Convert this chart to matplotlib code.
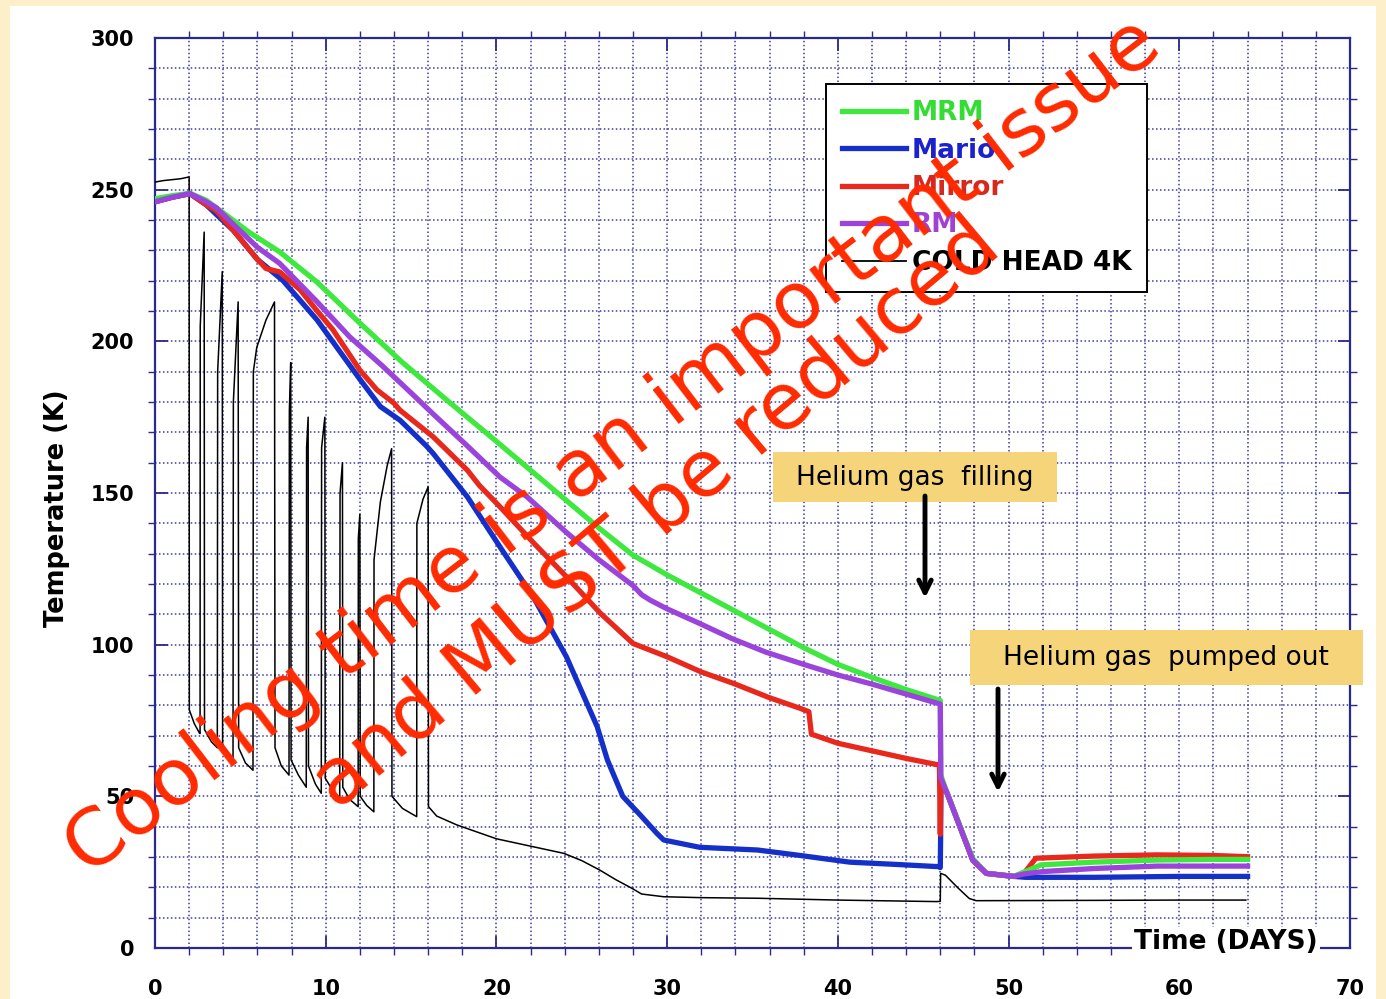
import matplotlib
matplotlib.use("Agg")
import matplotlib.pyplot as plt
from matplotlib.lines import Line2D
from matplotlib.patches import Rectangle
import numpy as np

# values: time in days, temperature in K
mrm_days = [0, 1, 2.05, 3, 4.2, 5.5, 7.3, 9.5, 12, 14.5, 17.1, 20, 22, 24, 26, 28,
            30, 32, 34, 36, 38, 40, 42, 44, 46, 46.03, 46.4, 47.3, 47.9, 48.7,
            50.3, 51.2, 51.9, 55, 58.7, 62, 64]
mrm_temp = [247, 248, 248.8, 246.5, 241.5, 236, 229.5, 219.5, 206, 193, 180.6, 167,
            157.5, 148, 138.5, 129.5, 123, 117, 111, 105, 99, 93.5, 89.2, 85.2, 81.6,
            57, 51, 38, 29.5, 24.6, 23.6, 25.7, 27.4, 28.3, 29.0, 29.2, 29.2]

mario_days = [0, 1, 2.05, 3, 4.6, 6, 7.5, 9.5, 12, 13.2, 14.35, 15.9, 16.3, 18.3,
              20.2, 22.15, 24.1, 25.9, 26.5, 27.4, 27.9, 28.4, 29.4, 29.8, 31.9,
              35.3, 37.8, 40.7, 43.6, 45.95, 46.0, 46.02, 46.04, 46.4, 47.3, 47.9,
              48.7, 50.3, 51, 55, 60, 64]
mario_temp = [246, 247.5, 248.7, 245, 236.5, 227, 220, 207, 187.5, 178.5, 174, 165.5,
              163, 148.7, 132.3, 115.8, 96, 73, 62, 50, 47, 44, 37.8, 35.6, 33.2,
              32.3, 30.5, 28.3, 27.5, 26.8, 26.5, 37, 55, 51, 37.8, 29, 24.6, 23.6,
              23.3, 23.3, 23.6, 23.6]

mirror_days = [0, 1, 2.05, 3, 3.6, 4.6, 6, 6.5, 7.3, 8.5, 9.5, 10.4, 12, 13, 14, 14.35,
               16.3, 18.3, 19, 20.2, 22.2, 24.1, 26.1, 28, 30, 32, 33.9, 36, 37.8,
               38.3, 38.45, 40, 42, 44, 45.95, 46.0, 46.03, 46.4, 47.3, 47.9, 48.7,
               50.3, 50.9, 51.6, 55, 58.7, 62, 64]
mirror_temp = [246, 247.5, 248.7, 245, 243, 236.5, 227, 224, 222.9, 217, 210, 204,
               190.5, 184, 179.6, 177.3, 168.5, 157.5, 152.5, 145.5, 133.4, 122.4,
               110.3, 100.4, 96, 91, 87.2, 82.5, 79, 77.9, 70.5, 67.5, 65, 62.5, 60.3,
               37.5, 55, 51, 37.8, 29, 24.6, 23.6, 24.6, 29.6, 30.3, 30.7, 30.5, 30.1]

rm_days = [0, 1, 2.05, 3, 3.6, 4.6, 6, 7.3, 9.5, 11.4, 13.3, 15, 16.3, 18.3, 20.2,
           21.8, 24.1, 26, 28, 28.5, 29, 30, 31.9, 33.8, 35.8, 38, 40, 42, 44, 46,
           46.03, 46.4, 47.3, 47.9, 48.7, 50.3, 50.9, 52, 55, 58.7, 62, 64]
rm_temp = [246, 247.5, 248.7, 246, 244, 238.5, 231, 225.7, 213, 201.5, 192, 183, 176,
           165.5, 155.3, 148.7, 137, 128, 119.5, 116.5, 114.7, 111.8, 107, 102, 97.5,
           93.5, 90, 87, 83.7, 80.4, 56, 51, 37.8, 29, 24.6, 23.6, 24.4, 25.2, 26.2,
           27, 27, 27]

coldhead_days = [0, 0.5, 1, 1.5, 2.0, 2.01, 2.3, 2.62,
                 2.64, 2.65, 2.88, 2.9, 3.3, 3.65,
                 3.67, 3.94, 3.96, 4.3, 4.57,
                 4.59, 4.87, 4.9, 5.3, 5.74,
                 5.76, 5.96, 6.5, 7.0, 7.03, 7.4, 7.85,
                 7.87, 7.95, 7.97, 8.4, 8.86,
                 8.88, 8.97, 8.99, 9.4, 9.74,
                 9.76, 9.95, 9.97, 10.4, 10.82,
                 10.84, 10.98, 11.0, 11.4, 11.9,
                 11.91, 12.0, 12.02, 12.4, 12.82,
                 12.83, 13.2, 13.6, 13.86, 13.88, 14.5, 15.33,
                 15.34, 15.7, 16.0, 16.02, 16.5, 17.67, 20, 23.95, 25, 26.05, 27.0,
                 27.93, 28.5, 29.8, 32, 35.3, 40, 45.8, 46.0, 46.02, 46.3, 47.0, 47.7,
                 48.1, 55, 60, 63.9]
coldhead_temp = [252.5, 253, 253.3, 253.6, 254.2, 78.5, 74, 70.7,
                 70.7, 205, 236, 72, 68, 66,
                 190, 223, 67, 64, 62,
                 180, 213, 66, 61, 58.6,
                 190, 198, 207, 213, 66, 60, 57,
                 177, 193, 62, 57, 53,
                 165, 175, 60, 54, 51,
                 165, 175, 56, 52, 49.3,
                 150, 160, 53, 49, 46.6,
                 135, 143, 50, 47, 44.9,
                 128, 147, 159, 164.6, 50, 46, 43.3,
                 140, 148, 152, 46.6, 43.5, 40.6, 36, 31.2, 28.8, 25.7, 22.5,
                 19.7, 17.8, 16.9, 16.6, 16.4, 15.8, 15.3, 15.4, 24.6, 24, 20, 16.3,
                 15.6, 15.7, 15.8, 15.8]

W, H = 1386, 999
navy = "#2a2a8e"
gridc = "#3c3ca0"

fig = plt.figure(figsize=(W / 100, H / 100), dpi=100)
fig.patch.set_facecolor("#fcefc9")
fig.add_artist(Rectangle((10 / W, 0), 1366 / W, 993 / H, transform=fig.transFigure,
                         facecolor="white", edgecolor="none", zorder=-5))

ax = fig.add_axes([155 / W, 1 - 948 / H, 1195 / W, 910 / H])
ax.set_facecolor("white")
ax.set_axisbelow(True)

ax.plot(coldhead_days, coldhead_temp, color="black", lw=1.1, zorder=3)
ax.plot(mario_days, mario_temp, color="#1530c8", lw=3.8, zorder=4, solid_joinstyle="round")
ax.plot(mirror_days, mirror_temp, color="#e8281c", lw=3.8, zorder=5, solid_joinstyle="round")
ax.plot(mrm_days, mrm_temp, color="#3ee83e", lw=3.8, zorder=6, solid_joinstyle="round")
ax.plot(rm_days, rm_temp, color="#9a44dc", lw=3.8, zorder=7, solid_joinstyle="round")

ax.set_xlim(0, 70)
ax.set_ylim(0, 300)
ax.set_xticks(np.arange(0, 71, 10))
ax.set_xticks(np.arange(0, 71, 2), minor=True)
ax.set_yticks(np.arange(0, 301, 50))
ax.set_yticks(np.arange(0, 301, 10), minor=True)
ax.tick_params(which="major", direction="in", length=9, width=1.3, color=navy,
               top=True, right=True)
ax.tick_params(which="minor", direction="out", length=5, width=1.0, color=navy,
               top=True, right=True)
ax.tick_params(axis="x", which="major", pad=22, labelsize=15)
ax.tick_params(axis="y", which="major", pad=15, labelsize=15)
for lab in ax.get_xticklabels() + ax.get_yticklabels():
    lab.set_fontweight("bold")
ax.grid(which="both", color=gridc, linestyle=(0, (1, 1.6)), linewidth=1.1)
for sp in ax.spines.values():
    sp.set_color(navy)
    sp.set_linewidth(1.6)

ax.set_ylabel("Temperature (K)", fontsize=18.5, fontweight="bold")
ax.yaxis.set_label_coords((70 - 155) / 1195, (948 - 508) / 910)
ax.text(62.75, 2.0, "Time (DAYS)", fontsize=19, fontweight="bold", ha="center",
        va="center", zorder=8, clip_on=False,
        bbox=dict(facecolor="white", edgecolor="none", pad=1.5))

handles = [Line2D([], [], color="#3ee83e", lw=3.8),
           Line2D([], [], color="#1530c8", lw=3.8),
           Line2D([], [], color="#e8281c", lw=3.8),
           Line2D([], [], color="#9a44dc", lw=3.8),
           Line2D([], [], color="black", lw=1.3)]
labels = ["MRM", "Mario", "Mirror", "RM", "COLD HEAD 4K"]
leg = ax.legend(handles, labels, loc="upper left",
                bbox_to_anchor=((826 - 155) / 1195, (948 - 84) / 910),
                borderaxespad=0, fontsize=19, handlelength=2.4, handletextpad=0.22,
                labelspacing=0.43, borderpad=0.62, fancybox=False, framealpha=1,
                edgecolor="black",
                labelcolor=["#33dd33", "#1a22cc", "#d8281e", "#a040d4", "black"])
leg.get_frame().set_linewidth(1.4)
leg.set_zorder(9)
for t in leg.get_texts():
    t.set_fontweight("bold")


def fx(x):
    return x / W


def fy(y):
    return 1 - y / H


boxc = "#f5d47a"
fig.add_artist(Rectangle((fx(773), fy(502)), (1057 - 773) / W, 50 / H,
                         transform=fig.transFigure, facecolor=boxc, edgecolor="none",
                         zorder=20))
fig.text(fx(915), fy(478), "Helium gas  filling", fontsize=19, ha="center",
         va="center", zorder=21)
fig.add_artist(Rectangle((fx(970), fy(685)), (1363 - 970) / W, 55 / H,
                         transform=fig.transFigure, facecolor=boxc, edgecolor="none",
                         zorder=20))
fig.text(fx(1166), fy(658), "Helium gas  pumped out", fontsize=19, ha="center",
         va="center", zorder=21)

for ax_x, y0, y1 in [(925, 496, 598), (998, 689, 792)]:
    fig.add_artist(plt.Annotation("", xy=(fx(ax_x), fy(y1)), xytext=(fx(ax_x), fy(y0)),
                                  xycoords="figure fraction",
                                  arrowprops=dict(arrowstyle="->,head_length=0.9,head_width=0.45",
                                                  lw=3.5, color="black",
                                                  shrinkA=0, shrinkB=0),
                                  zorder=22))

red = "#ff2a00"
fig.text(fx(613), fy(447), "Cooling time is an important issue", fontsize=57,
         color=red, rotation=37.5, ha="center", va="center", rotation_mode="anchor",
         zorder=30)
fig.text(fx(656), fy(515), "and MUST be reduced", fontsize=57, color=red,
         rotation=40, ha="center", va="center", rotation_mode="anchor", zorder=30)

fig.savefig("out.png", dpi=100, facecolor=fig.get_facecolor())
